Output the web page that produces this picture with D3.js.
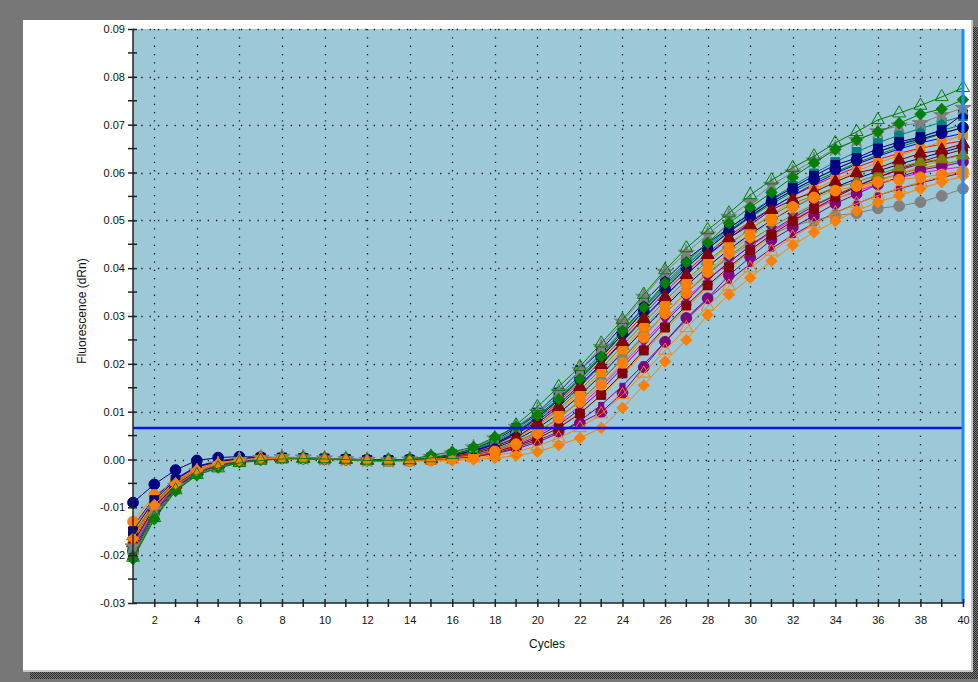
<!DOCTYPE html>
<html>
<head>
<meta charset="utf-8">
<script src="https://cdn.jsdelivr.net/npm/d3@7"></script>
<style>
  html, body { margin: 0; padding: 0; background: #777777; }
  svg { display: block; }
  text { font-family: "Liberation Sans", Arial, sans-serif; fill: #111; }
</style>
</head>
<body>
<svg id="chart" width="978" height="682"></svg>
<script>
// Amplification plot: fluorescence (dRn) per cycle for each well
const cycles = [1,2,3,4,5,6,7,8,9,10,11,12,13,14,15,16,17,18,19,20,
                21,22,23,24,25,26,27,28,29,30,31,32,33,34,35,36,37,38,39,40];

const xTickLabels = [2,4,6,8,10,12,14,16,18,20,22,24,26,28,30,32,34,36,38,40];
const xMinorTicks = [3,5,7,9,11,13,15,17,19,21,23,25,27,29,31,33,35,37,39];
const yTickLabels = [-0.03,-0.02,-0.01,0.00,0.01,0.02,0.03,0.04,0.05,0.06,0.07,0.08,0.09];
const yMinorTicks = [-0.025,-0.015,-0.005,0.005,0.015,0.025,0.035,0.045,0.055,0.065,0.075,0.085];

const threshold = 0.0066;

const wellA1 = [-0.0205,-0.0122,-0.0064,-0.0032,-0.0018,-0.0007,-0.0002,0.0001,0.0002,0.0001,0.0000,-0.0002,-0.0002,-0.0001,0.0003,0.0010,0.0022,0.0042,0.0072,0.0110,0.0152,0.0194,0.0243,0.0292,0.0345,0.0396,0.0442,0.0480,0.0515,0.0553,0.0584,0.0610,0.0634,0.0662,0.0685,0.0710,0.0724,0.0740,0.0758,0.0777];
const wellA2 = [-0.0208,-0.0125,-0.0066,-0.0033,-0.0017,-0.0006,-0.0001,0.0002,0.0001,0.0000,-0.0001,-0.0003,-0.0002,0.0000,0.0009,0.0016,0.0026,0.0047,0.0068,0.0092,0.0126,0.0168,0.0215,0.0268,0.0318,0.0369,0.0412,0.0453,0.0494,0.0527,0.0558,0.0590,0.0620,0.0648,0.0668,0.0685,0.0703,0.0722,0.0733,0.0752];
const wellA3 = [-0.0150,-0.0085,-0.0042,-0.0015,-0.0005,0.0002,0.0004,0.0004,0.0003,0.0002,0.0001,-0.0001,-0.0001,0.0000,0.0004,0.0011,0.0022,0.0040,0.0066,0.0098,0.0140,0.0187,0.0229,0.0280,0.0328,0.0375,0.0418,0.0452,0.0484,0.0513,0.0543,0.0568,0.0593,0.0616,0.0630,0.0650,0.0664,0.0674,0.0689,0.0722];
const wellA4 = [-0.0182,-0.0105,-0.0055,-0.0025,-0.0010,-0.0001,0.0003,0.0005,0.0004,0.0002,0.0001,-0.0001,-0.0002,0.0000,0.0005,0.0013,0.0025,0.0044,0.0068,0.0099,0.0141,0.0187,0.0235,0.0288,0.0340,0.0392,0.0432,0.0470,0.0507,0.0538,0.0574,0.0600,0.0625,0.0650,0.0668,0.0686,0.0698,0.0703,0.0720,0.0735];
const wellA5 = [-0.0175,-0.0100,-0.0052,-0.0024,-0.0010,-0.0002,0.0002,0.0003,0.0002,0.0001,0.0000,-0.0002,-0.0003,-0.0002,0.0001,0.0006,0.0014,0.0027,0.0045,0.0076,0.0110,0.0152,0.0198,0.0246,0.0294,0.0340,0.0386,0.0428,0.0463,0.0490,0.0522,0.0543,0.0559,0.0580,0.0599,0.0609,0.0626,0.0640,0.0647,0.0660];
const wellA6 = [-0.0130,-0.0074,-0.0045,-0.0020,-0.0008,0.0000,0.0003,0.0004,0.0003,0.0002,0.0000,-0.0002,-0.0003,-0.0003,0.0000,0.0003,0.0008,0.0017,0.0032,0.0055,0.0087,0.0120,0.0156,0.0202,0.0255,0.0306,0.0348,0.0392,0.0432,0.0465,0.0500,0.0528,0.0548,0.0562,0.0572,0.0580,0.0585,0.0590,0.0596,0.0603];
const wellA7 = [-0.0190,-0.0110,-0.0058,-0.0027,-0.0012,-0.0004,0.0001,0.0003,0.0002,0.0001,0.0000,-0.0002,-0.0003,-0.0003,-0.0001,0.0002,0.0006,0.0013,0.0025,0.0040,0.0058,0.0076,0.0099,0.0139,0.0193,0.0246,0.0296,0.0337,0.0385,0.0423,0.0459,0.0485,0.0510,0.0535,0.0555,0.0575,0.0590,0.0605,0.0613,0.0622];
const wellA8 = [-0.0160,-0.0092,-0.0048,-0.0020,-0.0007,0.0001,0.0004,0.0004,0.0003,0.0001,0.0000,-0.0001,-0.0002,-0.0001,0.0002,0.0007,0.0015,0.0028,0.0047,0.0072,0.0105,0.0145,0.0190,0.0238,0.0285,0.0332,0.0375,0.0415,0.0450,0.0482,0.0510,0.0535,0.0552,0.0568,0.0580,0.0595,0.0611,0.0622,0.0628,0.0636];
const wellA9 = [-0.0185,-0.0108,-0.0056,-0.0026,-0.0011,-0.0003,0.0002,0.0003,0.0003,0.0002,0.0000,-0.0001,-0.0002,-0.0001,0.0003,0.0010,0.0020,0.0037,0.0062,0.0095,0.0133,0.0176,0.0222,0.0270,0.0318,0.0365,0.0408,0.0447,0.0483,0.0515,0.0545,0.0572,0.0598,0.0622,0.0643,0.0662,0.0678,0.0692,0.0705,0.0718];
const wellA10 = [-0.0165,-0.0095,-0.0050,-0.0022,-0.0009,-0.0002,0.0002,0.0003,0.0002,0.0001,0.0000,-0.0002,-0.0003,-0.0004,-0.0003,-0.0002,0.0000,0.0003,0.0008,0.0016,0.0030,0.0045,0.0066,0.0108,0.0155,0.0205,0.0250,0.0302,0.0345,0.0380,0.0415,0.0448,0.0475,0.0498,0.0520,0.0538,0.0552,0.0566,0.0580,0.0592];
const wellA11 = [-0.0195,-0.0112,-0.0060,-0.0028,-0.0012,-0.0003,0.0002,0.0004,0.0004,0.0002,0.0000,-0.0001,-0.0002,-0.0002,0.0000,0.0004,0.0010,0.0020,0.0035,0.0056,0.0085,0.0122,0.0165,0.0212,0.0260,0.0305,0.0348,0.0388,0.0422,0.0452,0.0472,0.0488,0.0500,0.0510,0.0515,0.0525,0.0530,0.0538,0.0551,0.0566];
const wellA12 = [-0.0090,-0.0052,-0.0022,-0.0002,0.0004,0.0006,0.0005,0.0004,0.0003,0.0002,0.0001,0.0000,-0.0001,0.0000,0.0003,0.0009,0.0018,0.0033,0.0056,0.0087,0.0125,0.0168,0.0214,0.0262,0.0310,0.0356,0.0400,0.0440,0.0476,0.0508,0.0538,0.0563,0.0586,0.0607,0.0626,0.0643,0.0658,0.0670,0.0682,0.0694];
const wellA13 = [-0.0170,-0.0098,-0.0052,-0.0023,-0.0009,-0.0001,0.0003,0.0003,0.0002,0.0001,0.0000,-0.0002,-0.0003,-0.0003,-0.0002,0.0000,0.0003,0.0008,0.0016,0.0028,0.0045,0.0066,0.0095,0.0135,0.0180,0.0228,0.0275,0.0320,0.0362,0.0400,0.0435,0.0465,0.0492,0.0515,0.0535,0.0552,0.0567,0.0580,0.0592,0.0604];
const wellA14 = [-0.0195,-0.0114,-0.0060,-0.0028,-0.0012,-0.0004,0.0001,0.0003,0.0002,0.0001,0.0000,-0.0002,-0.0003,-0.0002,0.0000,0.0004,0.0009,0.0018,0.0030,0.0048,0.0072,0.0105,0.0145,0.0192,0.0240,0.0288,0.0332,0.0375,0.0412,0.0447,0.0478,0.0505,0.0530,0.0552,0.0572,0.0590,0.0605,0.0618,0.0628,0.0638];
const wellA15 = [-0.0140,-0.0080,-0.0040,-0.0014,-0.0003,0.0003,0.0004,0.0004,0.0003,0.0001,0.0000,-0.0001,-0.0002,-0.0001,0.0002,0.0008,0.0017,0.0031,0.0052,0.0080,0.0115,0.0156,0.0200,0.0248,0.0296,0.0342,0.0386,0.0426,0.0462,0.0495,0.0525,0.0552,0.0576,0.0598,0.0617,0.0634,0.0649,0.0662,0.0672,0.0682];
const wellA16 = [-0.0150,-0.0086,-0.0044,-0.0017,-0.0005,0.0002,0.0004,0.0004,0.0003,0.0002,0.0000,-0.0001,-0.0002,-0.0002,0.0001,0.0006,0.0014,0.0026,0.0045,0.0070,0.0102,0.0140,0.0183,0.0230,0.0278,0.0324,0.0368,0.0410,0.0448,0.0482,0.0513,0.0540,0.0564,0.0585,0.0603,0.0620,0.0635,0.0650,0.0664,0.0678];
const wellA17 = [-0.0172,-0.0100,-0.0053,-0.0024,-0.0010,-0.0002,0.0002,0.0003,0.0002,0.0001,0.0000,-0.0002,-0.0003,-0.0002,0.0000,0.0003,0.0008,0.0016,0.0028,0.0044,0.0066,0.0096,0.0135,0.0180,0.0228,0.0276,0.0322,0.0364,0.0402,0.0438,0.0470,0.0498,0.0524,0.0548,0.0570,0.0590,0.0607,0.0622,0.0636,0.0648];
const wellA18 = [-0.0160,-0.0094,-0.0049,-0.0021,-0.0008,0.0000,0.0003,0.0004,0.0003,0.0001,0.0000,-0.0001,-0.0002,-0.0001,0.0002,0.0008,0.0017,0.0032,0.0054,0.0084,0.0120,0.0162,0.0207,0.0255,0.0303,0.0350,0.0393,0.0432,0.0467,0.0498,0.0526,0.0551,0.0573,0.0593,0.0611,0.0627,0.0640,0.0651,0.0659,0.0666];
const wellA19 = [-0.0178,-0.0104,-0.0054,-0.0025,-0.0010,-0.0002,0.0002,0.0003,0.0002,0.0001,0.0000,-0.0002,-0.0003,-0.0002,0.0000,0.0004,0.0010,0.0019,0.0033,0.0052,0.0078,0.0112,0.0152,0.0198,0.0246,0.0293,0.0337,0.0377,0.0413,0.0446,0.0475,0.0501,0.0524,0.0544,0.0561,0.0576,0.0589,0.0599,0.0606,0.0612];
const wellA20 = [-0.0188,-0.0110,-0.0057,-0.0026,-0.0011,-0.0003,0.0002,0.0004,0.0003,0.0002,0.0000,-0.0001,-0.0002,-0.0001,0.0003,0.0009,0.0019,0.0035,0.0059,0.0090,0.0128,0.0171,0.0218,0.0267,0.0316,0.0362,0.0405,0.0444,0.0479,0.0510,0.0538,0.0563,0.0586,0.0607,0.0626,0.0643,0.0659,0.0674,0.0688,0.0700];
const wellA21 = [-0.0168,-0.0097,-0.0050,-0.0022,-0.0008,0.0000,0.0003,0.0004,0.0003,0.0001,0.0000,-0.0001,-0.0002,-0.0002,0.0001,0.0005,0.0012,0.0024,0.0041,0.0065,0.0096,0.0134,0.0177,0.0224,0.0272,0.0319,0.0363,0.0403,0.0439,0.0471,0.0500,0.0526,0.0549,0.0569,0.0587,0.0603,0.0617,0.0630,0.0642,0.0654];
const wellA22 = [-0.0200,-0.0118,-0.0062,-0.0030,-0.0014,-0.0005,0.0000,0.0002,0.0002,0.0001,0.0000,-0.0002,-0.0002,-0.0001,0.0003,0.0009,0.0018,0.0033,0.0056,0.0087,0.0124,0.0167,0.0213,0.0262,0.0311,0.0358,0.0401,0.0440,0.0475,0.0506,0.0534,0.0559,0.0581,0.0601,0.0620,0.0637,0.0653,0.0667,0.0681,0.0694];
const wellA23 = [-0.0158,-0.0090,-0.0046,-0.0019,-0.0006,0.0001,0.0004,0.0004,0.0003,0.0001,0.0000,-0.0001,-0.0002,-0.0002,0.0001,0.0005,0.0011,0.0021,0.0037,0.0058,0.0087,0.0123,0.0164,0.0210,0.0258,0.0305,0.0349,0.0389,0.0425,0.0457,0.0486,0.0511,0.0533,0.0552,0.0569,0.0584,0.0597,0.0608,0.0617,0.0626];
const wellA24 = [-0.0182,-0.0106,-0.0056,-0.0026,-0.0011,-0.0003,0.0001,0.0003,0.0002,0.0001,0.0000,-0.0002,-0.0003,-0.0003,-0.0001,0.0002,0.0006,0.0012,0.0022,0.0036,0.0055,0.0081,0.0114,0.0154,0.0199,0.0246,0.0292,0.0335,0.0374,0.0409,0.0441,0.0469,0.0494,0.0516,0.0535,0.0552,0.0566,0.0578,0.0589,0.0600];
const wellA25 = [-0.0145,-0.0083,-0.0043,-0.0017,-0.0005,0.0002,0.0004,0.0004,0.0003,0.0001,0.0000,-0.0002,-0.0003,-0.0002,0.0000,0.0003,0.0008,0.0015,0.0027,0.0044,0.0067,0.0097,0.0134,0.0177,0.0223,0.0271,0.0317,0.0360,0.0399,0.0434,0.0466,0.0494,0.0520,0.0543,0.0563,0.0581,0.0597,0.0612,0.0626,0.0640];

// Styling per well: colour, marker shape, filled or outlined (drawn in this order)
const wells = [
  { values: wellA18, color: "#ff0000", shape: "square",   fill: true, small: true },
  { values: wellA19, color: "#ff00ff", shape: "circle",   fill: true, small: true },
  { values: wellA20, color: "#008080", shape: "circle",   fill: true, small: true },
  { values: wellA21, color: "#000080", shape: "triangle", fill: true, small: true },
  { values: wellA22, color: "#008000", shape: "square",   fill: true, small: true },
  { values: wellA23, color: "#808000", shape: "circle",   fill: true, small: true },
  { values: wellA24, color: "#800080", shape: "square",   fill: true, small: true },
  { values: wellA25, color: "#ff8000", shape: "triangle", fill: true, small: true },
  { values: wellA11, color: "#808080", shape: "circle",   fill: true },
  { values: wellA14, color: "#800080", shape: "times",    fill: true },
  { values: wellA7,  color: "#800080", shape: "circle",   fill: true },
  { values: wellA17, color: "#800000", shape: "square",   fill: true },
  { values: wellA8,  color: "#808000", shape: "triangle", fill: true },
  { values: wellA15, color: "#0000ff", shape: "circle",   fill: true, small: true },
  { values: wellA16, color: "#ff8000", shape: "square",   fill: true },
  { values: wellA9,  color: "#008080", shape: "square",   fill: true },
  { values: wellA12, color: "#000080", shape: "circle",   fill: true },
  { values: wellA13, color: "#ff8000", shape: "triangle", fill: false },
  { values: wellA5,  color: "#800000", shape: "triangle", fill: true },
  { values: wellA6,  color: "#ff8000", shape: "circle",   fill: true },
  { values: wellA3,  color: "#000080", shape: "square",   fill: true },
  { values: wellA4,  color: "#808080", shape: "star",     fill: true },
  { values: wellA2,  color: "#008000", shape: "diamond",  fill: true },
  { values: wellA10, color: "#ff8000", shape: "diamond",  fill: true },
  { values: wellA1,  color: "#008000", shape: "triangle", fill: false }
];

const svg = d3.select("#chart");
const W = 978, H = 682;

// Window frame
const defs = svg.append("defs");
const pat = defs.append("pattern").attr("id", "dither")
  .attr("width", 2).attr("height", 2).attr("patternUnits", "userSpaceOnUse");
pat.append("rect").attr("width", 2).attr("height", 2).attr("fill", "#7a7a7a");
pat.append("rect").attr("width", 1).attr("height", 1).attr("fill", "#2a2a2a");
pat.append("rect").attr("x", 1).attr("y", 1).attr("width", 1).attr("height", 1).attr("fill", "#2a2a2a");

svg.append("rect").attr("width", W).attr("height", H).attr("fill", "#777777");
svg.append("rect").attr("x", 30).attr("y", 672).attr("width", 948).attr("height", 7).attr("fill", "url(#dither)");
svg.append("rect").attr("x", 973).attr("y", 27).attr("width", 5).attr("height", 652).attr("fill", "url(#dither)");
svg.append("rect").attr("x", 23).attr("y", 20).attr("width", 950).attr("height", 652).attr("fill", "#c8c8c8");
svg.append("rect").attr("x", 23).attr("y", 20).attr("width", 948).attr("height", 650).attr("fill", "#ffffff");

// Plot area
const pLeft = 133, pRight = 963, pTop = 29, pBottom = 603;
const x = d3.scaleLinear().domain([1, 40]).range([pLeft, pRight]);
const y = d3.scaleLinear().domain([-0.03, 0.09]).range([pBottom, pTop]);

svg.append("rect").attr("x", pLeft).attr("y", pTop)
  .attr("width", pRight - pLeft).attr("height", pBottom - pTop)
  .attr("fill", "#9cc8d7");

// Dotted grid
const grid = svg.append("g").attr("stroke", "#1a1a1a").attr("stroke-width", 1.3)
  .attr("stroke-dasharray", "1.3,7");
grid.selectAll("line.h").data(yTickLabels.filter(v => v > -0.03)).join("line")
  .attr("x1", pLeft).attr("x2", pRight)
  .attr("y1", d => Math.round(y(d)) + 0.5).attr("y2", d => Math.round(y(d)) + 0.5);
grid.selectAll("line.v").data(xTickLabels.filter(v => v < 40)).join("line")
  .attr("y1", pBottom).attr("y2", pTop)
  .attr("x1", d => Math.round(x(d)) + 0.5).attr("x2", d => Math.round(x(d)) + 0.5);

// Curves
const clip = defs.append("clipPath").attr("id", "plotclip");
clip.append("rect").attr("x", pLeft - 8).attr("y", pTop - 8)
  .attr("width", pRight - pLeft + 16).attr("height", pBottom - pTop + 16);

const line = d3.line().x((d, i) => x(cycles[i])).y(d => y(d));
const shapes = {
  circle: d3.symbolCircle,
  square: d3.symbolSquare,
  triangle: d3.symbolTriangle,
  star: d3.symbolStar,
  times: d3.symbolTimes,
  diamond: d3.symbolSquare
};
const sizes = { circle: 90, square: 78, triangle: 72, star: 80, times: 64, diamond: 60 };

const plot = svg.append("g").attr("clip-path", "url(#plotclip)");
wells.forEach(w => {
  const g = plot.append("g");
  g.append("path").datum(w.values).attr("d", line)
    .attr("fill", "none").attr("stroke", w.color).attr("stroke-width", 1);
  const sym = d3.symbol().type(shapes[w.shape]).size(w.small ? 26 : sizes[w.shape]);
  g.selectAll("path.m").data(w.values).join("path")
    .attr("class", "m")
    .attr("d", sym)
    .attr("transform", (d, i) => `translate(${x(cycles[i])},${y(d)})` + (w.shape === "diamond" ? " rotate(45)" : ""))
    .attr("fill", w.fill ? w.color : "none")
    .attr("stroke", w.color)
    .attr("stroke-width", w.shape === "times" ? 2 : 1);
});

// Threshold
svg.append("line").attr("x1", pLeft).attr("x2", pRight)
  .attr("y1", y(threshold)).attr("y2", y(threshold))
  .attr("stroke", "#0a14e6").attr("stroke-width", 2.5);

// End-cycle marker line
svg.append("line").attr("x1", pRight).attr("x2", pRight)
  .attr("y1", pTop).attr("y2", pBottom)
  .attr("stroke", "#1e8cff").attr("stroke-width", 3);

// Axes
const yAxis = d3.axisLeft(y).tickValues(yTickLabels).tickFormat(d => d.toFixed(2))
  .tickSize(5).tickPadding(3);
const gy = svg.append("g").attr("transform", `translate(${pLeft},0)`).call(yAxis);
gy.select(".domain").attr("stroke", "#222").attr("stroke-width", 1.5).attr("d", `M0,${pTop}V${pBottom}`);
gy.selectAll(".tick line").attr("x1", 4).attr("stroke", "#222").attr("stroke-width", 1.5);
gy.selectAll(".tick text").attr("font-size", 11).attr("font-family", "Liberation Sans, Arial, sans-serif").attr("fill", "#111");
gy.append("g").selectAll("line").data(yMinorTicks).join("line")
  .attr("x1", -5).attr("x2", 4).attr("y1", d => y(d)).attr("y2", d => y(d))
  .attr("stroke", "#222").attr("stroke-width", 1.5);

const xAxis = d3.axisBottom(x).tickValues(xTickLabels).tickFormat(d => String(d))
  .tickSize(4).tickPadding(9);
const gx = svg.append("g").attr("transform", `translate(0,${pBottom})`).call(xAxis);
gx.select(".domain").attr("stroke", "#222").attr("stroke-width", 1.5).attr("d", `M${pLeft},0H${pRight}`);
gx.selectAll(".tick line").attr("y1", -4).attr("stroke", "#222").attr("stroke-width", 1.5);
gx.selectAll(".tick text").attr("font-size", 11).attr("font-family", "Liberation Sans, Arial, sans-serif").attr("fill", "#111");
gx.append("g").selectAll("line").data(xMinorTicks).join("line")
  .attr("x1", d => x(d)).attr("x2", d => x(d)).attr("y1", -4).attr("y2", 4)
  .attr("stroke", "#222").attr("stroke-width", 1.5);

// Axis titles
svg.append("text").attr("x", 547).attr("y", 648).attr("text-anchor", "middle")
  .attr("font-size", 12).text("Cycles");
svg.append("text").attr("transform", "translate(86,311) rotate(-90)")
  .attr("text-anchor", "middle").attr("font-size", 12).text("Fluorescence (dRn)");
</script>
</body>
</html>
